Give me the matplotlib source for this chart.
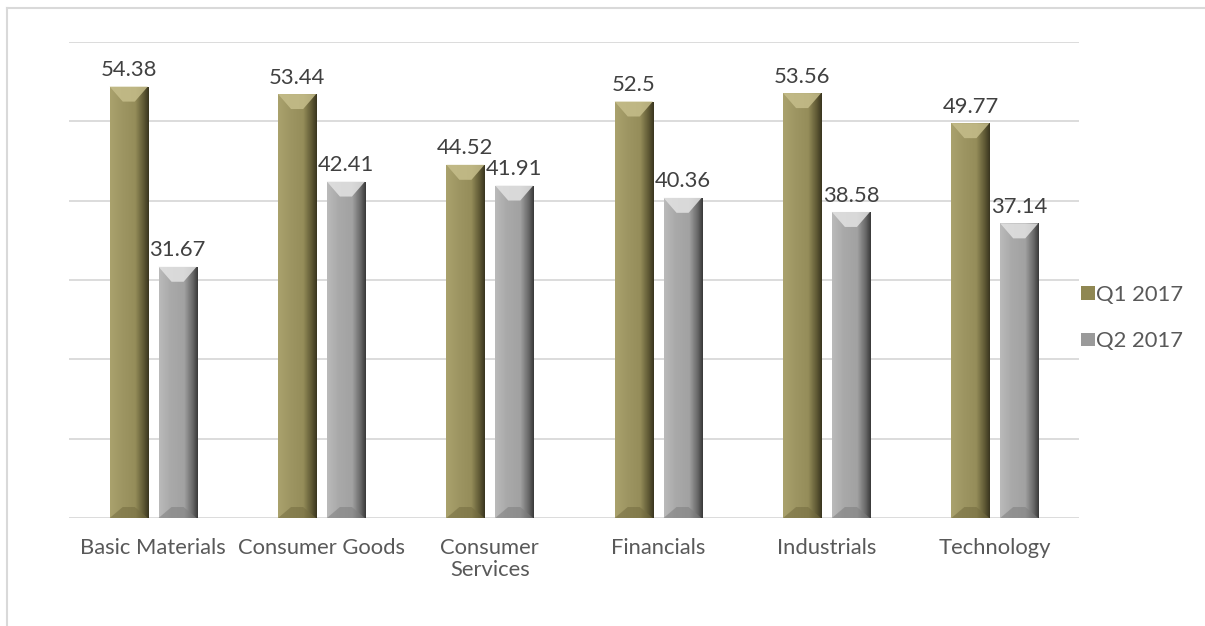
import numpy as np
import matplotlib.pyplot as plt
from matplotlib.colors import LinearSegmentedColormap
from matplotlib.patches import Polygon, Rectangle
from matplotlib.lines import Line2D

plt.rcParams['font.family'] = ['Lato', 'DejaVu Sans']

categories = ["Basic Materials", "Consumer Goods", "Consumer\nServices",
              "Financials", "Industrials", "Technology"]
q1 = [54.38, 53.44, 44.52, 52.5, 53.56, 49.77]
q2 = [31.67, 42.41, 41.91, 40.36, 38.58, 37.14]
series_names = ["Q1 2017", "Q2 2017"]

# colours per series: side gradient, top facet, bottom facet
styles = [
    {"grad": ["#aaa26d", "#9e9663", "#958d5a", "#5d5733", "#3a3620"],
     "top": "#c6be8b", "bot": "#746c40", "legend": "#8f8752"},
    {"grad": ["#bababa", "#a9a9a9", "#a2a2a2", "#666666", "#3a3a3a"],
     "top": "#e3e3e3", "bot": "#7e7e7e", "legend": "#9a9a9a"},
]

fig = plt.figure(figsize=(12.05, 6.26), dpi=100)
ax = fig.add_axes([69 / 1205, 1 - 518 / 626, 1010 / 1205, 476 / 626])
ax.set_xlim(-0.5, 5.5)
ax.set_ylim(0, 60)

x = np.arange(len(categories))
bw = 0.226
offs = [-0.145, 0.145]

# px -> data units
px_x = 6 / 1010
px_y = 60 / 476
bev_x = 13 * px_x
bev_top = 15 * px_y
bev_bot = 11 * px_y

for s, vals in enumerate([q1, q2]):
    st = styles[s]
    cmap = LinearSegmentedColormap.from_list("g%d" % s, list(zip([0, 0.3, 0.65, 0.88, 1.0], st["grad"])))
    bars = ax.bar(x + offs[s], vals, bw, color=st["grad"][2], zorder=3, linewidth=0)
    for b in bars:
        x0, w, h = b.get_x(), b.get_width(), b.get_height()
        x1 = x0 + w
        img = ax.imshow(np.linspace(0, 1, 64).reshape(1, -1), cmap=cmap, aspect="auto",
                        extent=(x0, x1, 0, h), zorder=3.1, interpolation="bilinear")
        img.set_clip_path(b)
        top = Polygon([(x0, h), (x1, h), (x1 - bev_x, h - bev_top), (x0 + bev_x, h - bev_top)],
                      closed=True, facecolor=st["top"], edgecolor="none", zorder=3.2, alpha=0.85)
        ax.add_patch(top)
        bot = Polygon([(x0, 0), (x1, 0), (x1 - bev_x, bev_bot), (x0 + bev_x, bev_bot)],
                      closed=True, facecolor=st["bot"], edgecolor="none", zorder=3.2, alpha=0.55)
        ax.add_patch(bot)
        ax.text(x0 + w / 2, h + 0.8, f"{h:g}", ha="center", va="bottom",
                fontsize=15.8, color="#404040", zorder=4)

ax.set_yticks(np.arange(0, 61, 10))
ax.yaxis.grid(True, color="#d9d9d9", linewidth=1.3, zorder=0)
ax.set_axisbelow(True)
ax.tick_params(axis="y", left=False, labelleft=False)
ax.tick_params(axis="x", bottom=False, pad=11, labelsize=15.8, labelcolor="#595959")
ax.set_xticks(x)
ax.set_xticklabels(categories, linespacing=1.1)
for sp in ax.spines.values():
    sp.set_visible(False)

handles = [Rectangle((0, 0), 1, 1, facecolor=st["legend"], edgecolor="none") for st in styles]
leg = ax.legend(handles, series_names, loc="center left", bbox_to_anchor=(0.985, 0.42),
                frameon=False, fontsize=15.8, handlelength=0.6, handleheight=0.6,
                handletextpad=0.08, labelspacing=1.2, borderaxespad=0.4)
for t in leg.get_texts():
    t.set_color("#595959")

# chart frame (cut off at right and bottom)
fig.add_artist(Line2D([7 / 1205, 7 / 1205], [0, 1 - 8 / 626], color="#d9d9d9", linewidth=1.5))
fig.add_artist(Line2D([7 / 1205, 1.01], [1 - 8 / 626, 1 - 8 / 626], color="#d9d9d9", linewidth=1.5))

fig.savefig("out.png", dpi=100)
